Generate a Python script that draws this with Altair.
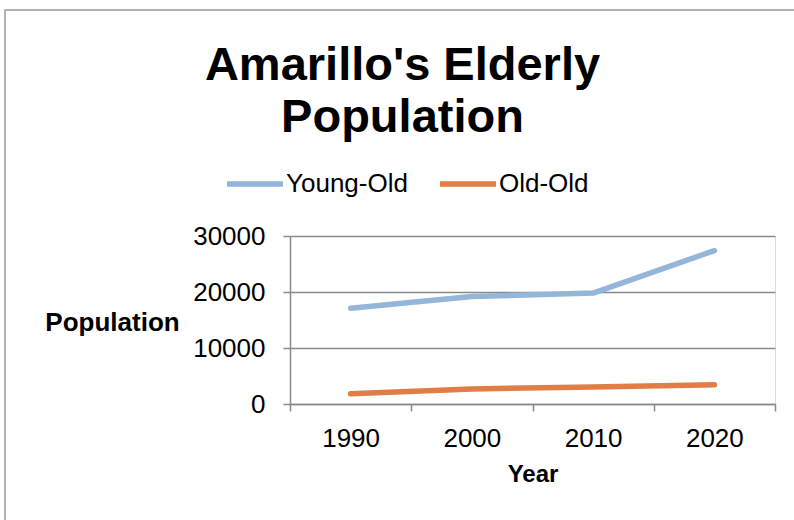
import altair as alt
import pandas as pd

years = ["1990", "2000", "2010", "2020"]
young_old = [17100, 19200, 19800, 27400]
old_old = [1850, 2700, 3050, 3450]
series = ["Young-Old", "Old-Old"]
colors = ["#94B6D8", "#E07E45"]
y_ticks = [0, 10000, 20000, 30000]

rows = []
for name, vals in zip(series, [young_old, old_old]):
    for yr, v in zip(years, vals):
        rows.append({"Year": yr, "Series": name, "Population": v})
df = pd.DataFrame(rows)

FONT = "Liberation Sans"
GRID = "#8a8a8a"

lines = alt.Chart(df).mark_line(strokeWidth=5.5, strokeCap="round", strokeJoin="round").encode(
    x=alt.X("Year:N", sort=years,
            scale=alt.Scale(type="band", paddingInner=0, paddingOuter=0),
            axis=alt.Axis(title="Year", labelAngle=0, tickBand="extent", grid=False,
                          labelFontSize=26, labelFont=FONT, labelColor="#000000",
                          labelPadding=14, tickSize=7, tickColor=GRID, domainColor=GRID,
                          tickWidth=1.5, domainWidth=1.5,
                          titleFont=FONT, titleFontSize=24, titleFontWeight="bold",
                          titleColor="#000000", titlePadding=11)),
    y=alt.Y("Population:Q", scale=alt.Scale(domain=[0, 30000]),
            axis=alt.Axis(values=y_ticks, format="d", title="Population",
                          labelFontSize=26, labelFont=FONT, labelColor="#000000",
                          labelPadding=18, tickSize=7, tickColor=GRID, domainColor=GRID,
                          tickWidth=1.5, domainWidth=1.5, gridColor=GRID, gridWidth=1.5,
                          titleFont=FONT, titleFontSize=26, titleFontWeight="bold",
                          titleColor="#000000", titleAngle=0, titleAlign="center",
                          titleBaseline="middle", titleX=-178, titleY=86)),
    color=alt.Color("Series:N", scale=alt.Scale(domain=series, range=colors),
                    legend=alt.Legend(title=None, orient="none", direction="horizontal",
                                      legendX=-66, legendY=-83,
                                      symbolType="stroke", symbolSize=3136,
                                      symbolStrokeWidth=5.5, labelFontSize=26,
                                      labelFont=FONT, labelColor="#000000",
                                      labelOffset=0, columnPadding=21)),
)

border = alt.Chart(pd.DataFrame({"k": [0]})).mark_rect(
    fill=None, stroke="#9a9a9a", strokeWidth=1.5, clip=False
).encode(x=alt.value(-285), x2=alt.value(520), y=alt.value(-226), y2=alt.value(300))

chart = alt.layer(border, lines).properties(
    width=485, height=168,
    title=alt.Title(text=["Amarillo's Elderly", "Population"], fontSize=47, font=FONT,
                    fontWeight="bold", color="#000000", lineHeight=52,
                    anchor="middle", dx=-130, dy=137),
    autosize=alt.AutoSizeParams(type="none"),
    padding={"left": 290, "top": 236, "right": 19, "bottom": 116},
).configure_view(stroke=None).configure(background="#ffffff")

chart.save("out.html", embed_options={"renderer": "svg", "actions": False})
